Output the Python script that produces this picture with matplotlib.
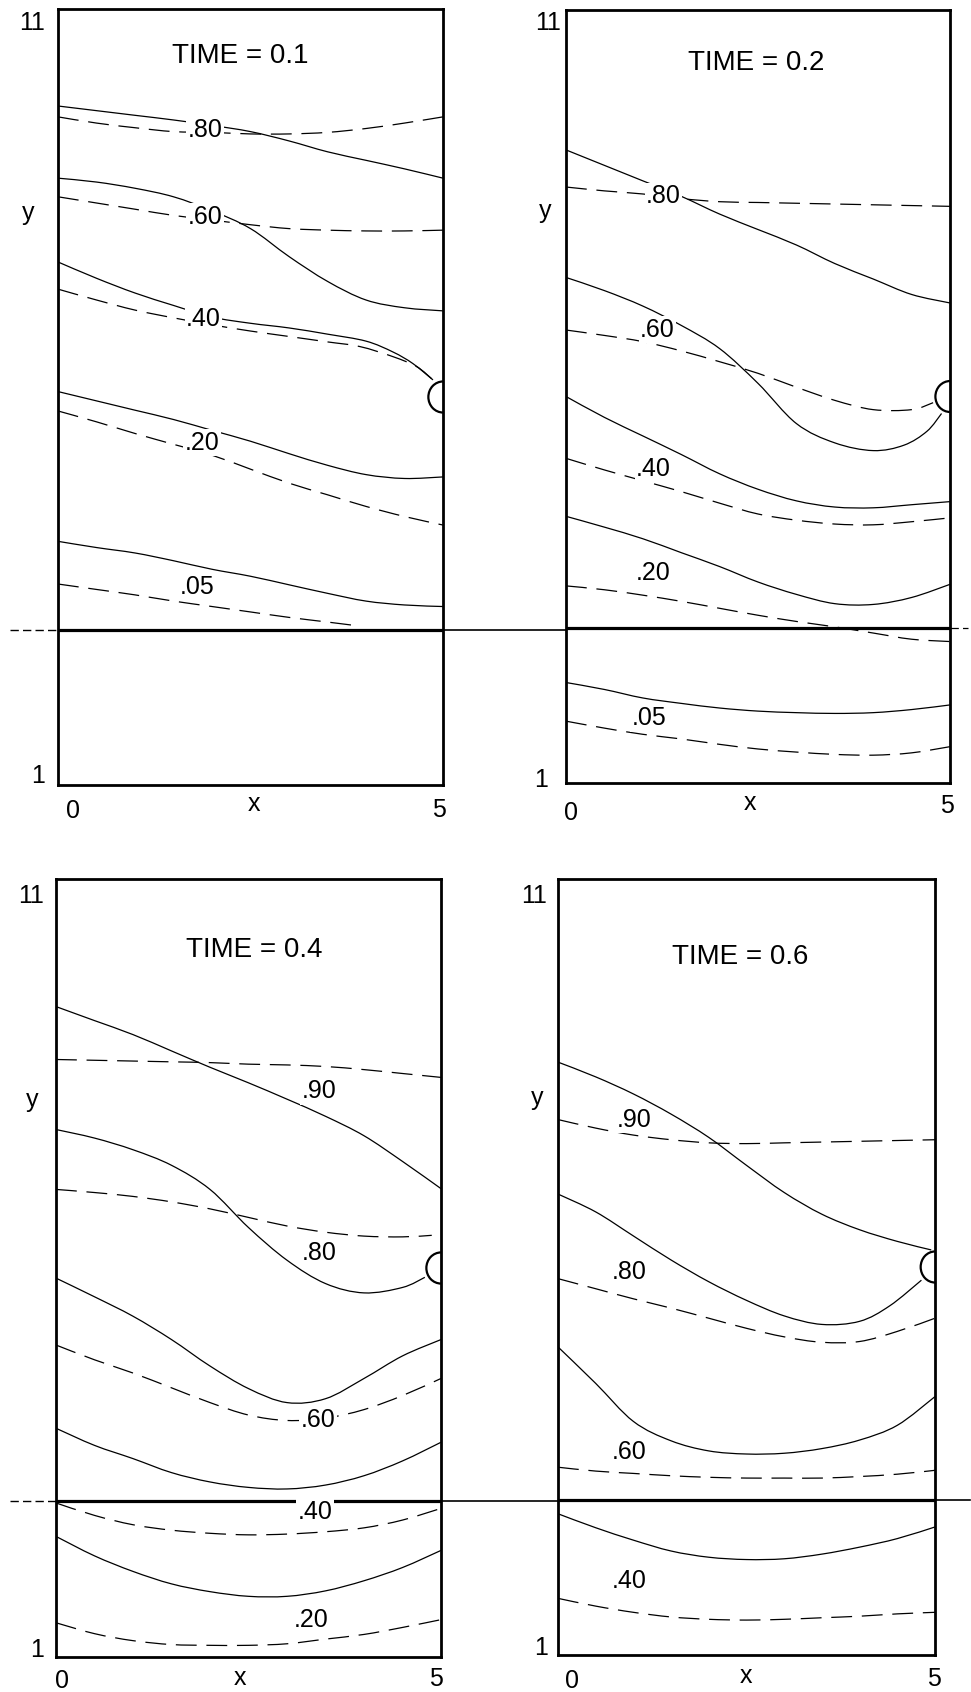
import matplotlib
matplotlib.use("Agg")
import matplotlib.pyplot as plt
from matplotlib.patches import Arc, PathPatch
from matplotlib.path import Path

plt.rcParams['font.family'] = ['Liberation Sans', 'DejaVu Sans']
plt.rcParams['lines.scale_dashes'] = False

# ===============================
# Contour data (x from 0 to 5, y from 1 to 11)
# ===============================

X = [0, 0.5, 1, 1.5, 2, 2.5, 3, 3.5, 4, 4.5, 5]

# TIME = 0.1
p1_s80 = [9.75, 9.69, 9.63, 9.57, 9.50, 9.42, 9.30, 9.16, 9.05, 8.94, 8.82]
p1_d80 = [9.61, 9.53, 9.47, 9.42, 9.41, 9.39, 9.39, 9.41, 9.46, 9.53, 9.61]
p1_s60 = [8.82, 8.77, 8.69, 8.58, 8.40, 8.17, 7.81, 7.49, 7.25, 7.15, 7.11]
p1_d60 = [8.58, 8.50, 8.42, 8.34, 8.28, 8.22, 8.17, 8.15, 8.14, 8.14, 8.15]
p1_s40_x = [0, 0.5, 1, 1.5, 2, 2.5, 3, 3.5, 4, 4.35, 4.61, 4.87]
p1_s40 = [7.74, 7.53, 7.34, 7.18, 7.03, 6.95, 6.89, 6.81, 6.72, 6.58, 6.43, 6.22]
p1_d40_x = [0, 0.5, 1, 1.5, 2, 2.5, 3, 3.5, 3.92, 4.35, 4.66, 4.87]
p1_d40 = [7.39, 7.25, 7.12, 7.02, 6.93, 6.85, 6.78, 6.71, 6.65, 6.52, 6.39, 6.22]
p1_s20 = [6.07, 5.95, 5.83, 5.71, 5.57, 5.43, 5.27, 5.12, 5.00, 4.95, 4.97]
p1_d20 = [5.82, 5.68, 5.53, 5.39, 5.25, 5.07, 4.89, 4.74, 4.59, 4.46, 4.35]
p1_s05 = [4.14, 4.06, 3.99, 3.89, 3.78, 3.69, 3.58, 3.47, 3.37, 3.32, 3.30]
p1_d05_x = [0, 0.5, 1, 1.5, 2, 2.5, 3, 3.5, 3.9]
p1_d05 = [3.59, 3.52, 3.45, 3.37, 3.30, 3.23, 3.16, 3.10, 3.05]

# TIME = 0.2
p2_s80 = [9.19, 8.99, 8.79, 8.59, 8.36, 8.16, 7.96, 7.72, 7.52, 7.32, 7.21]
p2_d80 = [8.71, 8.66, 8.62, 8.56, 8.52, 8.51, 8.50, 8.49, 8.48, 8.47, 8.46]
p2_s60_x = [0, 0.5, 1, 1.5, 2, 2.5, 3, 3.5, 4, 4.4, 4.7, 4.89]
p2_s60 = [7.54, 7.37, 7.17, 6.92, 6.62, 6.17, 5.65, 5.40, 5.30, 5.37, 5.55, 5.78]
p2_d60_x = [0, 0.5, 1, 1.5, 2, 2.5, 3, 3.5, 4, 4.5, 4.78]
p2_d60 = [6.86, 6.79, 6.71, 6.59, 6.45, 6.30, 6.12, 5.95, 5.83, 5.83, 5.92]
p2_s40 = [6.00, 5.73, 5.49, 5.25, 5.00, 4.80, 4.65, 4.57, 4.56, 4.60, 4.64]
p2_d40 = [5.20, 5.05, 4.91, 4.77, 4.62, 4.48, 4.40, 4.35, 4.34, 4.38, 4.43]
p2_s20 = [4.45, 4.31, 4.16, 3.98, 3.80, 3.60, 3.44, 3.32, 3.31, 3.40, 3.57]
p2_d20 = [3.55, 3.50, 3.43, 3.35, 3.26, 3.17, 3.09, 3.02, 2.94, 2.86, 2.83]
p2_s05 = [2.30, 2.21, 2.10, 2.03, 1.97, 1.93, 1.91, 1.90, 1.91, 1.95, 2.01]
p2_d05 = [1.80, 1.71, 1.63, 1.57, 1.50, 1.44, 1.40, 1.37, 1.36, 1.39, 1.47]

# TIME = 0.4
p3_s90 = [9.36, 9.18, 9.00, 8.79, 8.58, 8.38, 8.17, 7.95, 7.70, 7.37, 7.02]
p3_d90 = [8.68, 8.67, 8.66, 8.65, 8.64, 8.62, 8.61, 8.59, 8.55, 8.50, 8.45]
p3_s80_x = [0, 0.5, 1, 1.5, 2, 2.5, 3, 3.5, 4, 4.5, 4.79]
p3_s80 = [7.78, 7.67, 7.52, 7.32, 7.01, 6.52, 6.10, 5.80, 5.68, 5.75, 5.88]
p3_d80_x = [0, 0.5, 1, 1.5, 2, 2.5, 3, 3.5, 4, 4.5, 4.88]
p3_d80 = [7.01, 6.97, 6.92, 6.85, 6.76, 6.65, 6.54, 6.46, 6.41, 6.40, 6.42]
p3_s60 = [5.87, 5.63, 5.38, 5.08, 4.74, 4.45, 4.27, 4.32, 4.58, 4.87, 5.08]
p3_d60 = [5.01, 4.82, 4.65, 4.46, 4.27, 4.11, 4.04, 4.07, 4.18, 4.36, 4.58]
p3_s40 = [3.94, 3.72, 3.55, 3.37, 3.25, 3.18, 3.16, 3.21, 3.33, 3.52, 3.76]
p3_d40 = [2.98, 2.82, 2.70, 2.63, 2.59, 2.57, 2.58, 2.61, 2.66, 2.76, 2.91]
p3_s20 = [2.55, 2.30, 2.10, 1.94, 1.84, 1.78, 1.78, 1.85, 1.98, 2.15, 2.37]
p3_d20 = [1.44, 1.30, 1.21, 1.16, 1.15, 1.15, 1.17, 1.23, 1.29, 1.38, 1.48]

# TIME = 0.6
p4_s90_x = [0, 0.5, 1, 1.5, 2, 2.5, 3, 3.5, 4, 4.5, 4.95]
p4_s90 = [8.64, 8.45, 8.23, 7.97, 7.67, 7.31, 6.96, 6.68, 6.48, 6.33, 6.22]
p4_d90 = [7.90, 7.79, 7.70, 7.64, 7.60, 7.59, 7.60, 7.61, 7.62, 7.63, 7.64]
p4_s80_x = [0, 0.5, 1, 1.5, 2, 2.5, 3, 3.5, 4, 4.4, 4.82]
p4_s80 = [6.94, 6.71, 6.40, 6.09, 5.81, 5.57, 5.37, 5.26, 5.30, 5.50, 5.83]
p4_d80 = [5.85, 5.72, 5.59, 5.47, 5.34, 5.21, 5.10, 5.03, 5.04, 5.17, 5.34]
p4_s60 = [4.97, 4.50, 4.01, 3.76, 3.63, 3.59, 3.60, 3.66, 3.77, 3.96, 4.33]
p4_d60 = [3.42, 3.37, 3.34, 3.31, 3.29, 3.28, 3.28, 3.28, 3.30, 3.33, 3.38]
p4_s40 = [2.82, 2.64, 2.48, 2.34, 2.26, 2.23, 2.24, 2.30, 2.39, 2.50, 2.65]
p4_d40 = [1.73, 1.63, 1.55, 1.49, 1.46, 1.45, 1.46, 1.48, 1.50, 1.53, 1.55]

titles = ["TIME = 0.1", "TIME = 0.2", "TIME = 0.4", "TIME = 0.6"]

# (x, y, solid?) per panel
curves = [
    [(X, p1_s80, True), (X, p1_d80, False), (X, p1_s60, True), (X, p1_d60, False),
     (p1_s40_x, p1_s40, True), (p1_d40_x, p1_d40, False), (X, p1_s20, True),
     (X, p1_d20, False), (X, p1_s05, True), (p1_d05_x, p1_d05, False)],
    [(X, p2_s80, True), (X, p2_d80, False), (p2_s60_x, p2_s60, True),
     (p2_d60_x, p2_d60, False), (X, p2_s40, True), (X, p2_d40, False),
     (X, p2_s20, True), (X, p2_d20, False), (X, p2_s05, True), (X, p2_d05, False)],
    [(X, p3_s90, True), (X, p3_d90, False), (p3_s80_x, p3_s80, True),
     (p3_d80_x, p3_d80, False), (X, p3_s60, True), (X, p3_d60, False),
     (X, p3_s40, True), (X, p3_d40, False), (X, p3_s20, True), (X, p3_d20, False)],
    [(p4_s90_x, p4_s90, True), (X, p4_d90, False), (p4_s80_x, p4_s80, True),
     (X, p4_d80, False), (X, p4_s60, True), (X, p4_d60, False),
     (X, p4_s40, True), (X, p4_d40, False)],
]

level_text = [
    [".80", ".60", ".40", ".20", ".05"],
    [".80", ".60", ".40", ".20", ".05"],
    [".90", ".80", ".60", ".40", ".20"],
    [".90", ".80", ".60", ".40"],
]

# ===============================
# Layout (positions in axes data units / figure pixels)
# ===============================

W, H = 971, 1692
frames = [(58, 443, 9, 785), (566, 950, 10, 783), (56, 441, 879, 1657), (558, 935, 879, 1655)]

level_pos = [
    [(1.91, 9.35), (1.91, 8.23), (1.89, 6.92), (1.87, 5.32), (1.81, 3.46)],
    [(1.27, 8.50), (1.19, 6.77), (1.14, 4.97), (1.14, 3.63), (1.08, 1.75)],
    [(3.42, 8.18), (3.42, 6.10), (3.40, 3.96), (3.36, 2.78), (3.31, 1.39)],
    [(1.01, 7.81), (0.94, 5.85), (0.94, 3.53), (0.95, 1.86)],
]
title_pos = [(2.37, 10.30), (2.48, 10.23), (2.57, 10.00), (2.41, 9.91)]
# "11", "1", "y", "0", "x", "5"
tick_pos = [
    [(-0.17, 10.73), (-0.17, 1.02), (-0.39, 8.28), (0.19, 0.57), (2.54, 0.66), (4.95, 0.59)],
    [(-0.06, 10.74), (-0.23, 0.95), (-0.27, 8.31), (0.07, 0.52), (2.40, 0.65), (4.96, 0.61)],
    [(-0.16, 10.69), (-0.16, 1.00), (-0.31, 8.07), (0.08, 0.60), (2.39, 0.64), (4.93, 0.63)],
    [(-0.15, 10.69), (-0.13, 1.00), (-0.28, 8.09), (0.19, 0.57), (2.49, 0.64), (4.99, 0.60)],
]
# extension of the y = 3 line beyond each frame: (left dashed start, right end, right dashed?)
interface = [(-0.62, 6.6, False), (None, 5.23, True), (-0.6, 6.55, False), (None, 5.46, False)]

DASH = (0, (15, 7))


def smooth_path(xs, ys):
    # draw the read points as one smooth curve (Catmull-Rom as cubic Beziers)
    pts = list(zip(xs, ys))
    n = len(pts)
    verts = [pts[0]]
    codes = [Path.MOVETO]
    for k in range(n - 1):
        p0 = pts[k - 1] if k > 0 else pts[k]
        p1 = pts[k]
        p2 = pts[k + 1]
        p3 = pts[k + 2] if k + 2 < n else pts[k + 1]
        c1 = (p1[0] + (p2[0] - p0[0]) / 6, p1[1] + (p2[1] - p0[1]) / 6)
        c2 = (p2[0] - (p3[0] - p1[0]) / 6, p2[1] - (p3[1] - p1[1]) / 6)
        verts += [c1, c2, p2]
        codes += [Path.CURVE4] * 3
    return Path(verts, codes)


fig = plt.figure(figsize=(W / 100, H / 100), dpi=100)
fig.patch.set_facecolor("white")

for i in range(4):
    l, r, t, b = frames[i]
    ax = fig.add_axes([l / W, 1 - b / H, (r - l) / W, (b - t) / H])
    ax.set_xlim(0, 5)
    ax.set_ylim(1, 11)
    ax.set_xticks([])
    ax.set_yticks([])
    for sp in ax.spines.values():
        sp.set_linewidth(2.0)
        sp.set_zorder(6)

    for xs, ys, solid in curves[i]:
        ax.add_patch(PathPatch(smooth_path(xs, ys), fill=False, ec="black", lw=0.9,
                               linestyle="-" if solid else DASH, zorder=2))

    # y = 3 interface line
    ax.plot([0, 5], [3, 3], color="black", lw=2.3, solid_capstyle="butt", zorder=3)
    left, right, rdash = interface[i]
    if left is not None:
        ax.plot([left, 0], [3, 3], color="black", lw=1.0, linestyle=(0, (6, 3)), clip_on=False)
    ax.plot([5, right], [3, 3], color="black", lw=1.2 if not rdash else 0.9,
            linestyle=(0, (6, 3)) if rdash else "-", clip_on=False)

    # well at x = 5, y = 6
    ax.add_patch(Arc((5, 6), 0.38, 0.40, theta1=90, theta2=270, color="black", lw=1.6,
                     clip_on=False, zorder=4))

    for txt, (lx, ly) in zip(level_text[i], level_pos[i]):
        ax.text(lx, ly, txt, ha="center", va="baseline", fontsize=18, zorder=5,
                bbox=dict(boxstyle="square,pad=0.06", fc="white", ec="none"))

    tx, ty = title_pos[i]
    ax.text(tx, ty, titles[i], ha="center", va="baseline", fontsize=20)

    p = tick_pos[i]
    ax.text(p[0][0], p[0][1], "11", ha="right", va="baseline", fontsize=18)
    ax.text(p[1][0], p[1][1], "1", ha="right", va="baseline", fontsize=18)
    ax.text(p[2][0], p[2][1], "y", ha="center", va="baseline", fontsize=18)
    ax.text(p[3][0], p[3][1], "0", ha="center", va="baseline", fontsize=18)
    ax.text(p[4][0], p[4][1], "x", ha="center", va="baseline", fontsize=18)
    ax.text(p[5][0], p[5][1], "5", ha="center", va="baseline", fontsize=18)

fig.savefig("out.png", dpi=100, facecolor="white")
